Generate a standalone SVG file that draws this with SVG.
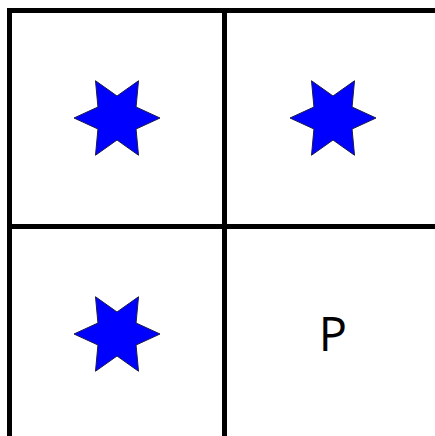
<svg xmlns="http://www.w3.org/2000/svg" xmlns:xlink="http://www.w3.org/1999/xlink" width="435" height="436" viewBox="0 0 435 436">
  <style>
    .grid { stroke: #000; stroke-width: 5; fill: none; }
    .star { fill: #0000ff; stroke: #1a1a4d; stroke-width: 1; stroke-linejoin: miter; }
    .label { font-family: "Open Sans", "Liberation Sans", sans-serif; font-size: 47px; fill: #000; text-anchor: middle; }
  </style>
  <defs>
    <path id="star" d="M43,0 L19.05,-11 L21.5,-37.24 L0,-22 L-21.5,-37.24 L-19.05,-11 L-43,0 L-19.05,11 L-21.5,37.24 L0,22 L21.5,37.24 L19.05,11 Z"/>
  </defs>
  <rect width="435" height="436" fill="#fff"/>
  <g id="grid">
    <line class="grid" x1="9.5" y1="8" x2="9.5" y2="436"/>
    <line class="grid" x1="7" y1="10.5" x2="435" y2="10.5"/>
    <line class="grid" x1="224.5" y1="8" x2="224.5" y2="436"/>
    <line class="grid" x1="7" y1="226.5" x2="435" y2="226.5"/>
  </g>
  <g id="cell-top-left">
    <use xlink:href="#star" class="star" x="117" y="118"/>
  </g>
  <g id="cell-top-right">
    <use xlink:href="#star" class="star" x="333" y="118"/>
  </g>
  <g id="cell-bottom-left">
    <use xlink:href="#star" class="star" x="117" y="334"/>
  </g>
  <g id="cell-bottom-right">
    <text class="label" x="333" y="351">P</text>
  </g>
</svg>
